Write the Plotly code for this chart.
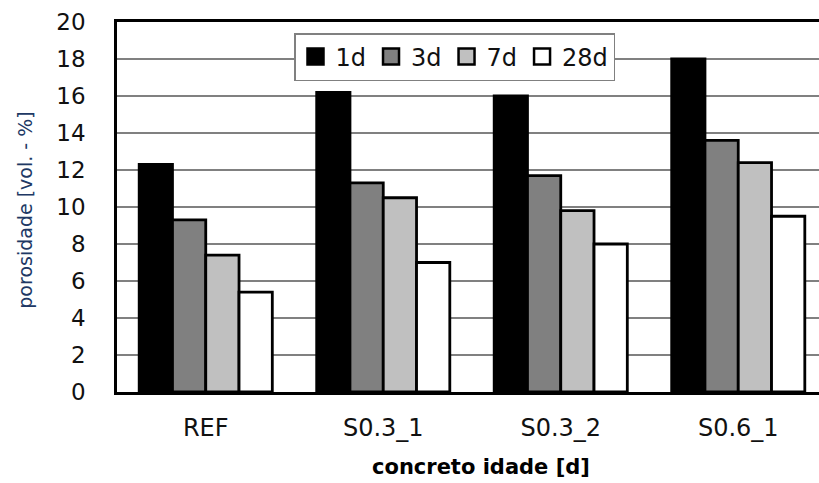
import plotly.graph_objects as go

# Porosity of concrete mixes at different ages
categories = ["REF", "S0.3_1", "S0.3_2", "S0.6_1"]
ages = ["1d", "3d", "7d", "28d"]
porosity_1d = [12.3, 16.2, 16.0, 18.0]
porosity_3d = [9.3, 11.3, 11.7, 13.6]
porosity_7d = [7.4, 10.5, 9.8, 12.4]
porosity_28d = [5.4, 7.0, 8.0, 9.5]
y_ticks = [0, 2, 4, 6, 8, 10, 12, 14, 16, 18, 20]

series = [porosity_1d, porosity_3d, porosity_7d, porosity_28d]
fills = ["#000000", "#808080", "#c0c0c0", "#ffffff"]

FONT = "DejaVu Sans"

fig = go.Figure()

for name, vals, col in zip(ages, series, fills):
    fig.add_trace(go.Bar(
        x=categories, y=vals, name=name,
        marker=dict(color=col, line=dict(color="#000000", width=2.8)),
        showlegend=False,
    ))

# legend entries with larger square swatches
for name, col in zip(ages, fills):
    fig.add_trace(go.Scatter(
        x=[None], y=[None], name=name, mode="markers",
        marker=dict(symbol="square", size=16, color=col,
                    line=dict(color="#000000", width=2.5)),
        showlegend=True,
    ))

W, H = 819, 483
ML, MR, MT, MB = 117, 0, 22, 91
plot_w = W - ML - MR

fig.update_layout(
    width=W, height=H,
    margin=dict(l=ML, r=MR, t=MT, b=MB, pad=0),
    paper_bgcolor="white", plot_bgcolor="white",
    barmode="group", bargap=0.25, bargroupgap=0,
    font=dict(family=FONT, color="#111111", size=23),
    showlegend=True,
    legend=dict(
        orientation="h",
        x=(294 - ML) / plot_w, xanchor="left",
        y=(391 - 32) / (H - MT - MB), yanchor="top",
        bgcolor="white", bordercolor="#808080", borderwidth=1.5,
        font=dict(family=FONT, size=24, color="#111111"),
        itemsizing="trace",
    ),
    xaxis=dict(
        range=[-0.5, -0.5 + plot_w / 177.5],
        showline=True, linecolor="#000000", linewidth=2.5, mirror=True,
        showgrid=False, ticks="", ticklabelstandoff=12,
        tickfont=dict(family=FONT, size=24, color="#111111"),
        fixedrange=True,
    ),
    yaxis=dict(
        range=[0, 20], tickvals=y_ticks,
        showline=True, linecolor="#000000", linewidth=2.5,
        showgrid=True, gridcolor="#808080", gridwidth=1.5,
        zeroline=False,
        ticks="outside", ticklen=24, tickcolor="rgba(0,0,0,0)",
        tickfont=dict(family=FONT, size=23, color="#111111"),
        fixedrange=True,
    ),
    annotations=[
        dict(text="porosidade [vol. - %]", xref="paper", yref="paper",
             x=(25 - ML) / plot_w, y=0.49, xanchor="center", yanchor="middle",
             textangle=-90, showarrow=False,
             font=dict(family=FONT, size=19, color="#203864")),
        dict(text="<b>concreto idade [d]</b>", xref="paper", yref="paper",
             x=(481 - ML) / plot_w, y=-(467 - (H - MB)) / (H - MT - MB),
             xanchor="center", yanchor="middle", showarrow=False,
             font=dict(family=FONT, size=21, color="#000000")),
    ],
)

fig.write_html("out.html")
